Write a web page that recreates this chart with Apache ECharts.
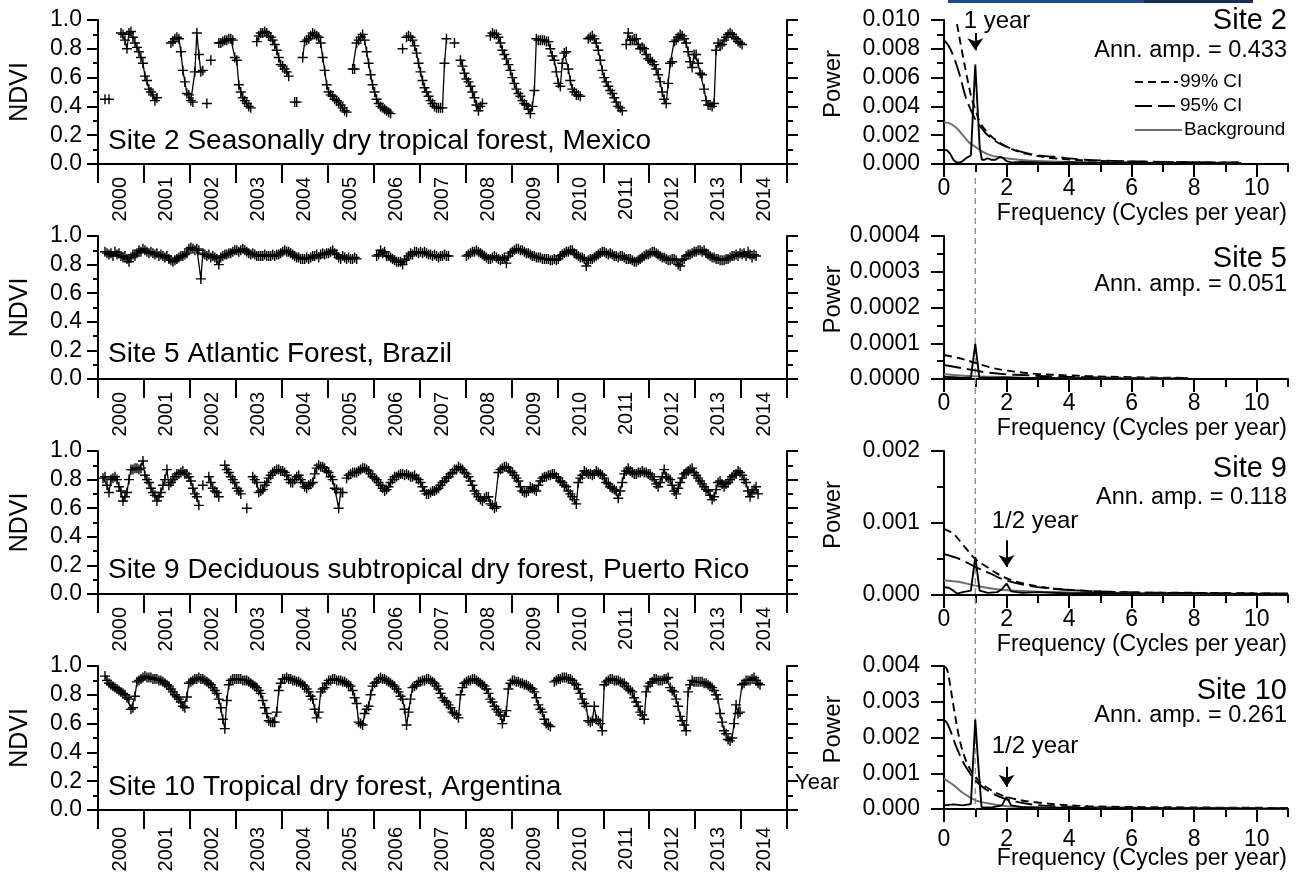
<!DOCTYPE html>
<html><head><meta charset="utf-8">
<script src="https://cdn.jsdelivr.net/npm/echarts@6/dist/echarts.min.js"></script>
<style>html,body{margin:0;padding:0;background:#fff}#c{width:1297px;height:879px}</style>
</head><body><div id="c"></div>
<script>
// ---------- DATA ----------
const YEARS = [2000,2001,2002,2003,2004,2005,2006,2007,2008,2009,2010,2011,2012,2013,2014];
const yearLabels = YEARS.map(String);
const PER_YEAR = 23; // 16-day composites per year
const n = null;

const ndviSite2 = [
 [n,n,n,0.45,n,0.45,n,n,n,n,n,0.91,0.90,0.86,0.80,0.91,0.92,0.88,0.84,0.81,0.78,0.74,0.70],
 [0.61,0.58,0.52,0.50,0.48,0.44,0.46,n,n,n,n,n,n,0.84,0.85,0.87,0.88,0.87,0.78,0.65,0.57,0.49,0.48],
 [0.44,0.43,0.64,0.91,0.76,0.64,0.65,n,0.42,n,0.72,n,n,n,0.84,0.84,0.85,0.86,0.86,0.87,0.87,0.86,0.74],
 [0.72,0.55,0.50,0.46,0.44,0.42,0.40,0.39,n,n,0.85,0.89,0.91,0.91,0.92,0.91,0.89,0.88,0.86,0.83,0.79,0.74,0.69],
 [0.68,0.66,0.64,0.61,n,n,0.43,0.43,n,n,0.74,0.85,0.86,0.87,0.89,0.91,0.90,0.89,0.88,0.84,0.74,0.65,0.55],
 [0.50,0.48,0.47,0.45,0.44,0.43,0.41,0.39,0.37,0.36,n,n,0.66,0.66,0.84,0.86,0.88,0.90,0.86,0.78,0.70,0.62,0.55],
 [0.50,0.45,0.42,0.40,0.39,0.38,0.37,0.36,0.35,n,n,n,n,n,0.80,n,0.88,0.89,0.88,0.86,0.82,0.77,0.70],
 [0.64,0.58,0.53,0.50,0.47,0.44,0.42,0.40,0.39,0.39,0.39,0.39,0.70,0.87,n,n,n,0.84,n,n,0.72,0.68,0.63],
 [0.59,0.57,0.54,0.50,0.46,0.41,0.37,0.40,0.42,n,n,n,0.89,0.91,0.90,0.90,0.88,0.84,0.79,0.76,0.73,0.69,0.65],
 [0.60,0.56,0.52,0.49,0.47,0.44,0.42,0.41,0.38,0.35,0.40,0.51,0.87,0.86,0.86,0.86,0.86,0.85,0.85,0.80,0.75,0.72,0.64],
 [0.56,0.54,0.70,0.77,0.78,0.66,0.58,0.52,0.50,0.48,0.48,0.47,n,n,n,0.87,0.88,0.89,0.87,0.84,0.79,0.72,0.65],
 [0.60,0.57,0.54,0.51,0.49,0.46,0.43,0.40,0.39,0.37,n,0.83,0.91,0.86,0.86,0.87,0.87,0.83,0.80,0.81,0.80,0.76,0.73],
 [0.72,0.71,0.69,0.66,0.62,0.57,0.50,0.45,0.42,0.56,0.70,0.71,0.85,0.86,0.88,0.90,0.89,0.87,0.84,0.78,0.71,0.67,0.76],
 [0.76,0.70,0.63,0.62,0.52,0.44,0.41,0.41,0.40,0.42,0.79,0.84,0.82,0.83,0.86,0.88,0.90,0.91,0.90,0.88,0.87,0.85,0.84],
 [0.83]
];
const ndviSite5 = [
 [n,n,n,0.89,0.88,0.87,0.88,0.86,0.89,0.87,0.88,0.86,0.85,0.86,0.84,0.82,0.85,0.87,0.86,0.88,0.90,0.89,0.91],
 [0.90,0.89,0.88,0.89,0.88,0.87,0.88,0.86,0.87,0.86,0.85,0.86,0.84,0.83,0.82,0.83,0.84,0.85,0.86,0.86,0.87,0.88,0.91],
 [0.92,0.91,0.90,0.91,0.90,0.70,0.88,0.87,0.86,0.87,0.85,0.86,0.85,0.84,0.80,0.85,0.86,0.87,0.87,0.88,0.88,0.89,0.90],
 [0.90,0.89,0.90,0.91,0.90,0.89,0.88,0.87,0.88,0.87,0.86,0.86,0.86,0.86,0.87,0.86,0.86,0.86,0.87,0.86,0.87,0.87,0.88],
 [0.89,0.90,0.89,0.89,0.88,0.87,0.86,0.85,0.85,0.84,0.84,0.84,0.85,0.84,0.85,0.86,0.86,0.87,0.85,0.87,0.88,0.87,0.88],
 [0.88,0.89,0.90,0.88,0.87,0.85,0.84,0.86,0.85,0.84,0.85,0.84,0.84,0.85,0.84,n,n,n,n,n,n,n,n],
 [n,0.86,0.87,0.90,0.88,0.89,0.86,0.86,0.85,0.84,0.83,0.82,0.82,0.82,0.80,0.83,0.84,0.86,0.88,0.87,0.89,0.89,0.88],
 [0.89,0.88,0.89,0.88,0.87,0.87,0.86,0.87,0.86,0.85,0.86,0.86,0.87,0.86,0.86,n,n,n,n,n,n,n,n],
 [0.86,0.87,0.88,0.89,0.89,0.90,0.89,0.88,0.87,0.86,0.85,0.84,0.84,0.85,0.86,0.85,0.84,0.83,0.84,0.85,0.81,0.86,0.88],
 [0.89,0.90,0.91,0.91,0.90,0.90,0.89,0.88,0.88,0.87,0.86,0.86,0.85,0.85,0.85,0.84,0.84,0.84,0.84,0.83,0.83,0.84,0.83],
 [0.84,0.86,0.87,0.88,0.89,0.89,0.90,0.90,0.88,0.87,0.86,0.85,0.85,0.84,0.79,0.83,0.84,0.84,0.85,0.86,0.87,0.88,0.89],
 [0.89,0.88,0.87,0.88,0.87,0.86,0.86,0.85,0.86,0.86,0.85,0.84,0.84,0.84,0.83,0.82,0.82,0.83,0.84,0.85,0.86,0.87,0.87],
 [0.88,0.89,0.89,0.88,0.87,0.86,0.85,0.85,0.84,0.83,0.83,0.84,0.84,0.83,0.80,0.79,0.83,0.84,0.86,0.87,0.87,0.88,0.89],
 [0.89,0.90,0.90,0.89,0.90,0.88,0.87,0.86,0.85,0.85,0.84,0.84,0.83,0.83,0.83,0.84,0.84,0.85,0.86,0.86,0.87,0.86,0.88],
 [0.87,0.88,0.86,0.89,0.87,0.85,0.87,0.86]
];
const ndviSite9 = [
 [n,n,0.81,0.82,0.76,0.71,0.80,0.81,0.82,0.80,0.75,0.72,0.65,0.68,0.71,0.80,0.87,0.87,0.88,0.88,0.87,0.88,0.93],
 [0.83,0.80,0.78,0.74,0.71,0.69,0.65,0.68,0.71,0.76,0.80,0.87,0.76,0.78,0.80,0.82,0.84,0.84,0.85,0.86,0.84,0.84,0.82],
 [0.79,0.74,0.70,0.68,0.62,n,0.76,n,n,0.82,0.78,0.74,0.72,0.71,0.68,n,n,0.90,0.87,0.85,0.82,0.80,0.78],
 [0.74,0.72,0.70,n,n,0.60,n,n,0.82,0.80,0.78,0.71,0.72,0.73,0.76,0.78,0.81,0.83,0.85,0.86,0.87,0.87,0.86],
 [0.86,0.85,0.83,0.80,0.78,0.78,0.80,0.82,0.83,0.80,0.78,0.75,0.74,0.76,0.77,0.78,0.84,0.88,0.90,0.89,0.89,0.88,0.86],
 [0.85,0.82,0.80,0.74,0.73,0.60,0.71,0.71,n,0.81,0.83,0.84,0.85,0.85,0.85,0.86,0.87,0.88,0.88,0.87,0.86,0.84,0.82],
 [0.81,0.80,0.78,0.76,0.74,0.72,0.73,0.75,0.78,0.80,0.82,0.82,0.83,0.84,0.84,0.83,0.84,0.83,0.82,0.82,0.83,0.81,0.80],
 [0.78,0.75,0.72,0.70,0.70,0.71,0.72,0.72,0.73,0.74,0.76,0.78,0.79,0.81,0.82,0.84,0.85,0.87,0.87,0.89,0.88,0.87,0.85],
 [0.84,0.82,0.79,0.76,0.72,0.70,0.68,0.66,0.65,0.67,0.68,0.68,0.63,0.62,0.60,0.61,0.85,0.87,0.88,0.89,0.89,0.88,0.86],
 [0.85,0.83,0.81,0.79,0.75,0.72,0.71,0.71,0.72,0.75,0.74,0.73,0.72,0.76,0.79,0.81,0.82,0.82,0.83,0.83,0.84,0.84,0.82],
 [0.81,0.79,0.78,0.76,0.75,0.72,0.70,0.68,0.66,0.63,0.78,0.81,0.83,0.86,0.85,0.84,0.84,0.83,0.84,0.86,0.85,0.84,0.83],
 [0.81,0.78,0.77,0.75,0.74,0.73,0.72,0.67,0.72,0.78,0.84,0.86,0.88,0.86,0.85,0.84,0.84,0.85,0.85,0.86,0.85,0.85,0.84],
 [0.84,0.82,0.80,0.77,0.75,0.78,0.82,0.87,0.82,0.81,0.80,0.76,0.72,0.70,0.74,0.78,0.81,0.84,0.85,0.86,0.87,0.88,0.85],
 [0.83,0.81,0.79,0.77,0.75,0.73,0.72,0.69,0.66,0.68,0.73,0.78,0.79,0.77,0.75,0.77,0.78,0.80,0.82,0.83,0.84,0.86,0.85],
 [0.83,0.80,0.78,0.72,0.68,0.71,0.73,0.75,0.70]
];
const ndviSite10 = [
 [n,n,n,0.93,0.90,0.88,0.87,0.86,0.85,0.84,0.83,0.82,0.81,0.80,0.78,0.77,0.70,0.71,0.79,0.89,0.90,0.91,0.92],
 [0.93,0.92,0.92,0.92,0.91,0.91,0.91,0.90,0.90,0.89,0.88,0.87,0.86,0.84,0.82,0.80,0.785,0.77,0.75,0.72,0.71,0.785,0.88],
 [0.89,0.90,0.91,0.91,0.92,0.91,0.91,0.90,0.89,0.88,0.87,0.85,0.83,0.81,0.77,0.71,0.63,0.565,0.76,0.87,0.90,0.91,0.91],
 [0.91,0.91,0.91,0.90,0.90,0.90,0.89,0.88,0.87,0.86,0.85,0.83,0.81,0.76,0.71,0.67,0.62,0.61,0.61,0.61,0.68,0.83,0.88],
 [0.91,0.91,0.92,0.91,0.91,0.90,0.90,0.89,0.89,0.88,0.87,0.86,0.84,0.82,0.79,0.77,0.70,0.64,0.68,0.82,0.84,0.85,0.88],
 [0.90,0.90,0.91,0.91,0.90,0.90,0.90,0.89,0.89,0.88,0.87,0.86,0.83,0.78,0.74,0.61,0.60,0.59,0.67,0.70,0.72,0.80,0.86],
 [0.88,0.89,0.91,0.92,0.91,0.91,0.90,0.89,0.88,0.87,0.86,0.84,0.82,0.79,0.77,0.70,0.59,0.68,0.77,0.85,0.86,0.87,0.89],
 [0.89,0.90,0.90,0.91,0.91,0.90,0.89,0.88,0.86,0.84,0.81,0.78,0.76,0.75,0.73,0.71,0.68,0.67,0.66,0.64,0.80,0.85,0.88],
 [0.89,0.90,0.90,0.91,0.91,0.90,0.89,0.88,0.87,0.86,0.84,0.81,0.77,0.75,0.72,0.70,0.68,0.66,0.60,0.65,0.69,0.84,0.88],
 [0.90,0.90,0.89,0.89,0.88,0.88,0.87,0.87,0.86,0.85,0.84,0.82,0.78,0.73,0.70,0.68,0.63,0.60,0.59,0.58,n,0.89,0.90],
 [0.91,0.91,0.92,0.92,0.92,0.91,0.91,0.90,0.88,0.87,0.84,0.81,0.77,0.74,0.72,0.62,0.61,0.62,0.72,0.63,0.62,0.60,0.55],
 [0.87,0.89,0.90,0.91,0.91,0.90,0.90,0.90,0.89,0.88,0.88,0.86,0.84,0.83,0.82,0.78,0.75,0.72,0.68,0.66,0.63,0.82,0.86],
 [0.88,0.89,0.91,0.91,0.90,0.90,0.90,0.91,0.91,0.92,0.85,0.83,0.82,0.77,0.72,0.65,0.62,0.59,0.55,0.82,0.87,0.90,0.89],
 [0.89,0.89,0.89,0.89,0.88,0.88,0.87,0.86,0.85,0.83,0.80,0.77,0.67,0.61,0.55,0.53,0.49,0.48,0.50,0.60,0.73,0.67,0.68],
 [0.87,0.88,0.90,0.90,0.90,0.91,0.92,0.90,0.88,0.87]
];

// Power spectra: [frequency (cycles/yr), power]
const spec2  = [[0,0.00097],[0.1,0.00095],[0.2,0.0007],[0.3,0.0003],[0.4,0.0001],[0.5,0.0001],[0.6,0.0002],[0.7,0.0004],[0.86,0.0006],[1.0,0.0069],[1.14,0.0012],[1.21,0.0003],[1.3,0.0003],[1.4,0.0004],[1.5,0.0003],[1.65,0.0003],[1.8,0.0005],[1.9,0.0004],[2.0,0.0002],[2.2,0.0001],[2.5,0.00015],[3,0.0001],[3.5,0.00008],[4,0.00012],[5,0.00008],[6,0.0001],[7,0.00006],[8,0.00008],[9,0.00005],[9.5,0.00005]];
const ci95s2 = [[0,0.0086],[0.15,0.0082],[0.3,0.0075],[0.5,0.0062],[0.7,0.0046],[0.85,0.0038],[1.0,0.0031],[1.2,0.0025],[1.4,0.0020],[1.8,0.0014],[2.4,0.0009],[3,0.0006],[3.5,0.0005],[4.5,0.0003],[5.6,0.0002],[7,0.00015],[8,0.00012],[9.5,0.0001]];
const ci99s2 = [[0,0.0132],[0.2,0.0122],[0.4,0.0099],[0.57,0.0079],[0.73,0.0061],[0.89,0.0045],[1.0,0.0038],[1.15,0.0029],[1.47,0.0020],[2.0,0.0012],[2.65,0.0007],[3.5,0.0004],[4.5,0.00025],[5.6,0.00018],[7,0.00014],[8,0.00012],[9.4,0.0001]];
const bgs2   = [[0,0.0029],[0.2,0.0028],[0.4,0.0025],[0.6,0.0020],[0.8,0.0015],[1.0,0.0012],[1.2,0.0009],[1.5,0.0006],[2,0.0004],[2.5,0.00028],[3,0.0002],[4,0.00013],[5,0.0001],[6,0.00008],[7,0.00007],[8,0.00006],[9.5,0.00005]];

const spec5  = [[0,0.000006],[0.3,0.000005],[0.6,0.000003],[0.86,0.000004],[1.0,0.000098],[1.13,0.000004],[1.5,0.000003],[2,0.000004],[2.5,0.000002],[3,0.000003],[4,0.000002],[5,0.000002],[6,0.000001],[7.8,0.000001]];
const ci95s5 = [[0,0.000039],[0.6,0.00003],[1.0,0.000024],[1.4,0.000018],[2,0.000013],[2.5,0.000011],[3.5,0.000007],[4.6,0.000005],[6,0.000003],[7.8,0.000002]];
const ci99s5 = [[0,0.000067],[0.5,0.000058],[1.0,0.000045],[1.5,0.000032],[1.9,0.000025],[2.5,0.000018],[3,0.000014],[4,0.00001],[4.6,0.000008],[6,0.000005],[7.8,0.000003]];
const bgs5   = [[0,0.000013],[0.5,0.00001],[1,0.000008],[1.5,0.000006],[2,0.000005],[3,0.000003],[5,0.000002],[7.8,0.000001]];

const spec9  = [[0,0.00011],[0.15,0.0001],[0.3,0.00006],[0.42,0.00002],[0.6,0.00004],[0.86,0.00006],[1.0,0.00053],[1.14,0.00006],[1.4,0.00003],[1.7,0.00004],[1.85,0.00008],[2.0,0.00016],[2.15,0.00005],[2.5,0.00003],[3,0.00004],[4,0.00002],[5,0.00003],[6,0.00002],[8,0.00002],[11,0.00001]];
const ci95s9 = [[0,0.00057],[0.5,0.0005],[1.0,0.00039],[1.47,0.0003],[2.0,0.0002],[3.0,0.00011],[4.6,0.000055],[7,0.00003],[11,0.00002]];
const ci99s9 = [[0,0.00092],[0.3,0.00085],[0.62,0.00069],[1.0,0.0005],[1.37,0.00039],[1.9,0.00025],[2.44,0.00017],[3.5,0.00009],[5.6,0.00004],[8,0.00003],[11,0.00002]];
const bgs9   = [[0,0.0002],[0.5,0.00018],[1,0.00013],[1.9,0.00007],[3.5,0.00004],[6,0.00002],[11,0.00001]];

const spec10  = [[0,0.0001],[0.3,0.00013],[0.6,0.0001],[0.86,0.00014],[1.0,0.0025],[1.1,0.0012],[1.2,0.00005],[1.5,0.00004],[1.85,0.0001],[2.0,0.00034],[2.15,0.0001],[2.5,0.00005],[3,0.00004],[4,0.00003],[5,0.00002],[7,0.00002],[11,0.00001]];
const ci95s10 = [[0,0.0025],[0.1,0.0024],[0.2,0.0022],[0.41,0.0017],[0.62,0.0013],[0.83,0.001],[1.0,0.0008],[1.37,0.00053],[2.0,0.00027],[3.0,0.00011],[4.6,0.00005],[7,0.00003],[11,0.00002]];
const ci99s10 = [[0,0.0040],[0.1,0.0039],[0.19,0.0035],[0.3,0.0029],[0.51,0.0019],[0.73,0.0013],[1.0,0.0009],[1.37,0.0006],[2.0,0.00034],[3.0,0.00018],[4.6,0.00008],[7,0.00005],[11,0.00003]];
const bgs10   = [[0,0.00085],[0.3,0.00067],[0.62,0.00044],[1.0,0.00025],[1.4,0.00016],[2.0,0.00008],[3.5,0.00004],[6,0.00002],[11,0.00001]];

const siteTitles = ['Site 2 Seasonally dry tropical forest, Mexico','Site 5 Atlantic Forest, Brazil','Site 9 Deciduous subtropical dry forest, Puerto Rico','Site 10 Tropical dry forest, Argentina'];
const siteNames = ['Site 2','Site 5','Site 9','Site 10'];
const annAmps = ['0.433','0.051','0.118','0.261'];
const powerMax = [0.010, 0.0004, 0.002, 0.004];
const powerInterval = [0.002, 0.0001, 0.001, 0.001];
const powerDecimals = [3, 4, 3, 3];
const freqMajor = [0,2,4,6,8,10];
const freqMinor = [1,3,5,7,9,11];
// arrows: [frequency, from power, to power] (null = none)
const arrowMarks = [[1,0.0091,0.0079], null, [2,0.00076,0.00039], [2,0.00118,0.00062]];

// ---------- LAYOUT / STYLE ----------
const FONT = '"Liberation Sans", Arial, Helvetica, sans-serif';
const BLACK = '#000';
const tops = [20, 236, 451, 666];
const hL = [144, 143, 143, 144];
const hR = [144, 143, 144, 143];
const ndviSets = [ndviSite2, ndviSite5, ndviSite9, ndviSite10];
const specSets = [[ci99s2,ci95s2,bgs2,spec2],[ci99s5,ci95s5,bgs5,spec5],[ci99s9,ci95s9,bgs9,spec9],[ci99s10,ci95s10,bgs10,spec10]];
const DASH99 = [8, 5], DASH95 = [17, 6];

function toPoints(yearsArr){
  const pts = [];
  yearsArr.forEach((yr, yi) => yr.forEach((v, k) => {
    pts.push([YEARS[yi] + (k + 0.5) / PER_YEAR, v == null ? '-' : v]);
  }));
  return pts;
}

const axisLineStyle = {color: BLACK, width: 2};
const grids = [], xAxes = [], yAxes = [], series = [];
for (let i = 0; i < 4; i++) {
  grids.push({left: 98, right: 1297 - 787, top: tops[i], height: hL[i], containLabel: false, outerBoundsMode: 'none'});
}
for (let j = 0; j < 4; j++) {
  grids.push({left: 944, right: 1297 - 1288, top: tops[j], height: hR[j], containLabel: false, outerBoundsMode: 'none'});
}
for (let i = 0; i < 4; i++) xAxes.push({type: 'value', gridIndex: i, min: 2000, max: 2015, show: false});
for (let i = 0; i < 4; i++) xAxes.push({
  type: 'category', gridIndex: i, position: 'bottom', data: yearLabels, boundaryGap: true,
  axisLine: {show: true, onZero: false, lineStyle: axisLineStyle},
  axisTick: {show: true, length: 19, lineStyle: {color: BLACK, width: 2}},
  axisLabel: {rotate: 90, interval: 0, fontSize: 20, fontFamily: FONT, color: BLACK, margin: i === 3 ? 17 : 13},
  splitLine: {show: false}
});
for (let j = 0; j < 4; j++) xAxes.push({
  type: 'value', gridIndex: 4 + j, position: 'bottom', min: 0, max: 11,
  axisLine: {show: true, onZero: false, lineStyle: axisLineStyle},
  axisTick: {show: true, customValues: freqMajor, length: 13, lineStyle: {color: BLACK, width: 2}},
  axisLabel: {show: true, customValues: freqMajor, fontSize: 23, fontFamily: FONT, color: BLACK, margin: j === 3 ? 19 : 13},
  splitLine: {show: false}
});
for (let j = 0; j < 4; j++) xAxes.push({
  type: 'value', gridIndex: 4 + j, position: 'bottom', min: 0, max: 11,
  axisLine: {show: false, onZero: false},
  axisTick: {show: true, customValues: freqMinor, length: 8, lineStyle: {color: BLACK, width: 2}},
  axisLabel: {show: false}, splitLine: {show: false}
});
for (let i = 0; i < 4; i++) yAxes.push({
  type: 'value', gridIndex: i, position: 'left', min: 0, max: 1, interval: 0.2,
  axisLine: {show: true, onZero: false, lineStyle: axisLineStyle},
  axisTick: {show: true, length: 11, lineStyle: {color: BLACK, width: 2}},
  minorTick: {show: true, splitNumber: 2, length: 5, lineStyle: {color: BLACK, width: 2}},
  axisLabel: {fontSize: 23, fontFamily: FONT, color: BLACK, margin: 16, formatter: v => v.toFixed(1)},
  splitLine: {show: false}, minorSplitLine: {show: false}
});
for (let i = 0; i < 4; i++) yAxes.push({
  type: 'value', gridIndex: i, position: 'right', min: 0, max: 1, interval: 0.2,
  axisLine: {show: true, onZero: false, lineStyle: axisLineStyle},
  axisTick: {show: true, length: 11, lineStyle: {color: BLACK, width: 2}},
  minorTick: {show: true, splitNumber: 2, length: 6, lineStyle: {color: BLACK, width: 2}},
  axisLabel: {show: false}, splitLine: {show: false}, minorSplitLine: {show: false}
});
for (let j = 0; j < 4; j++) yAxes.push({
  type: 'value', gridIndex: 4 + j, position: 'left', min: 0, max: powerMax[j], interval: powerInterval[j],
  axisLine: {show: true, onZero: false, lineStyle: axisLineStyle},
  axisTick: {show: true, length: 13, lineStyle: {color: BLACK, width: 2}},
  minorTick: {show: true, splitNumber: 2, length: 7, lineStyle: {color: BLACK, width: 2}},
  axisLabel: {fontSize: 23, fontFamily: FONT, color: BLACK, margin: 24, formatter: v => v.toFixed(powerDecimals[j])},
  splitLine: {show: false}, minorSplitLine: {show: false}
});

for (let i = 0; i < 4; i++) {
  series.push({
    type: 'line', xAxisIndex: i, yAxisIndex: i, data: toPoints(ndviSets[i]),
    symbol: 'path://M0,5L10,5M5,0L5,10', symbolSize: 10, showSymbol: true, showAllSymbol: true,
    connectNulls: false, silent: true,
    lineStyle: {color: BLACK, width: 1.3},
    itemStyle: {color: 'rgba(0,0,0,0)', borderColor: BLACK, borderWidth: 1.4}
  });
}
const specStyles = [
  {color: BLACK, width: 1.9, type: DASH99},
  {color: BLACK, width: 1.9, type: DASH95},
  {color: '#6e6e6e', width: 2, type: 'solid'},
  {color: BLACK, width: 1.9, type: 'solid'}
];
const specNames = ['99% CI', '95% CI', 'Background', 'Spectrum'];
for (let j = 0; j < 4; j++) {
  for (let s = 0; s < 4; s++) {
    const ser = {
      type: 'line', name: specNames[s], xAxisIndex: 8 + j, yAxisIndex: 8 + j, data: specSets[j][s],
      showSymbol: false, symbol: 'none', silent: true, clip: true,
      smooth: s < 3 ? 0.35 : false,
      lineStyle: specStyles[s], z: 2 + s
    };
    if (s === 3 && arrowMarks[j]) {
      const a = arrowMarks[j];
      ser.markLine = {
        silent: true, symbol: ['none', 'arrow'], symbolSize: 12, animation: false,
        label: {show: false},
        lineStyle: {color: BLACK, width: 2, type: 'solid'},
        data: [[{coord: [a[0], a[1]]}, {coord: [a[0], a[2]]}]]
      };
    }
    series.push(ser);
  }
}

const chart = echarts.init(document.getElementById('c'), null, {renderer: 'canvas', width: 1297, height: 879});
chart.setOption({
  backgroundColor: '#fff', animation: false,
  textStyle: {fontFamily: FONT},
  grid: grids, xAxis: xAxes, yAxis: yAxes, series: series
});

function txt(x, y, text, size, align, opts) {
  return Object.assign({type: 'text', x: x, y: y, silent: true, z: 100,
    style: {text: text, fontSize: size, fontFamily: FONT, fill: BLACK, align: align || 'left', verticalAlign: 'middle'}}, opts || {});
}
const g = [];
g.push({type: 'rect', shape: {x: 948, y: 0, width: 196, height: 3}, style: {fill: '#234a84'}, silent: true});
g.push({type: 'rect', shape: {x: 1144, y: 0, width: 109, height: 3}, style: {fill: '#1c2c4e'}, silent: true});
const siteLabelY = [141, 354, 570, 787];
const siteNameY = [21, 259, 469, 691];
const annY = [51, 285, 498, 716];
for (let i = 0; i < 4; i++) {
  g.push(txt(20, tops[i] + hL[i] / 2, 'NDVI', 25, 'center', {rotation: Math.PI / 2}));
  g.push(txt(833, tops[i] + hR[i] / 2 - 8, 'Power', 24, 'center', {rotation: Math.PI / 2}));
  g.push(txt(108, siteLabelY[i], siteTitles[i], 28, 'left'));
  g.push(txt(1287, siteNameY[i], siteNames[i], 29, 'right'));
  g.push(txt(1287, annY[i], 'Ann. amp. = ' + annAmps[i], 23.5, 'right'));
  const axisY = chart.convertToPixel({xAxisIndex: 8 + i, yAxisIndex: 8 + i}, [0, 0])[1];
  g.push(txt(1287, axisY + 50, 'Frequency (Cycles per year)', 23, 'right'));
}
g.push(txt(795, 783, 'Year', 22, 'left'));
g.push(txt(997, 21, '1 year', 24, 'center'));
g.push(txt(1035, 521, '1/2 year', 24, 'center'));
g.push(txt(1035, 746, '1/2 year', 24, 'center'));
const legY = [82, 106, 130];
const legDash = [DASH99, DASH95, null];
const legCol = [BLACK, BLACK, '#6e6e6e'];
const legTxt = ['99% CI', '95% CI', 'Background'];
for (let k = 0; k < 3; k++) {
  g.push({type: 'line', silent: true, shape: {x1: 1135, y1: legY[k], x2: k === 2 ? 1182 : 1178, y2: legY[k]},
    style: {stroke: legCol[k], lineWidth: k === 2 ? 2 : 1.9, lineDash: legDash[k]}});
  g.push(txt(k === 2 ? 1184 : 1180, legY[k], legTxt[k], 19, 'left'));
}
const pTop = chart.convertToPixel({xAxisIndex: 8, yAxisIndex: 8}, [1, 0]);
const pBot = chart.convertToPixel({xAxisIndex: 11, yAxisIndex: 11}, [1, 0]);
g.push({type: 'line', silent: true, z: 1, shape: {x1: pTop[0], y1: pTop[1] + 14, x2: pBot[0], y2: pBot[1]},
  style: {stroke: '#8a8a8a', lineWidth: 1.3, lineDash: [6, 4]}});
chart.setOption({graphic: {elements: g}});
</script>
</body></html>
